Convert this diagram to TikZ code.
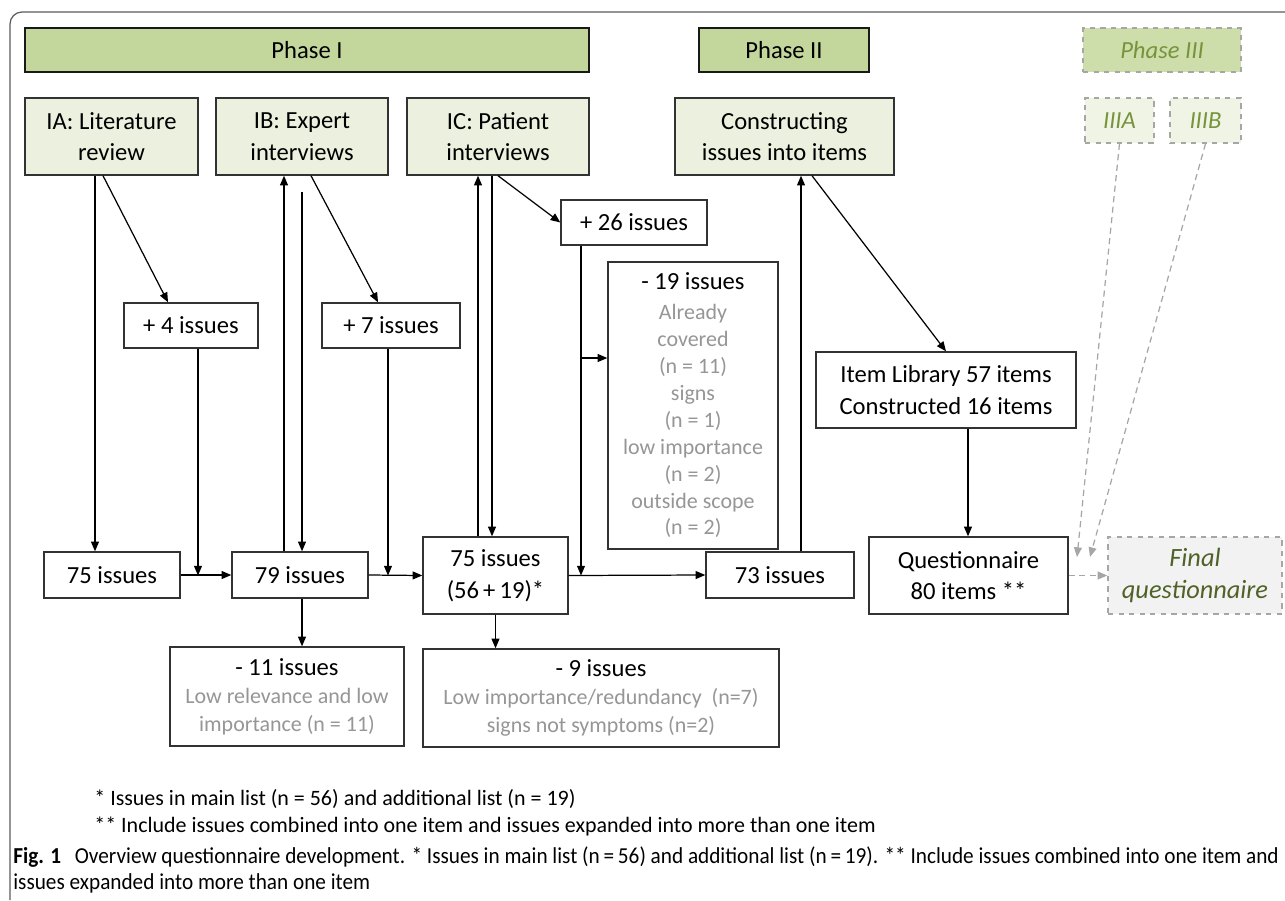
\documentclass[tikz,border=0pt]{standalone}
\usepackage{fontspec}
\setmainfont{Carlito}
\newfontfamily\capfont{Carlito}[FakeStretch=0.93]
\usepackage{xcolor}
\usepackage{tikz}
\usetikzlibrary{arrows.meta, positioning, calc}
\definecolor{phasegreen}{RGB}{195, 214, 155}
\definecolor{stepgreen}{RGB}{235, 241, 222}
\definecolor{laterfill}{RGB}{205, 222, 170}
\definecolor{laterstep}{RGB}{239, 244, 228}
\definecolor{latertext}{RGB}{119, 147, 60}
\definecolor{finaltext}{RGB}{79, 98, 40}
\definecolor{finalfill}{RGB}{242, 242, 242}
\definecolor{dashgray}{RGB}{166, 166, 166}
\definecolor{notegray}{RGB}{150, 150, 150}
\definecolor{framegray}{RGB}{90, 90, 90}
\definecolor{boxborder}{RGB}{50, 50, 50}

\tikzset{
  mainsize/.style={font=\fontsize{14}{18}\selectfont},
  phasebox/.style={draw=black!90, line width=0.85pt, fill=phasegreen, inner sep=0pt, mainsize},
  stepbox/.style={draw=boxborder, line width=0.8pt, fill=stepgreen, inner sep=0pt, align=center, mainsize},
  countbox/.style={draw=boxborder, line width=0.8pt, fill=white, inner sep=0pt, align=center, mainsize},
  notebox/.style={draw=boxborder, line width=0.8pt, fill=white, inner sep=0pt, align=center, text=notegray},
  latebox/.style={draw=dashgray, dashed, line width=0.8pt, inner sep=0pt, align=center, text=latertext,
    font=\fontsize{14}{18}\selectfont\itshape},
  arr/.style={-{Triangle[length=5.5pt,width=4.5pt]}, line width=0.7pt},
  darr/.style={-{Triangle[length=5.5pt,width=4.5pt]}, dashgray, dash pattern=on 3.5pt off 2.5pt, line width=0.7pt},
}
\newcommand{\notehead}[1]{{\color{black}\fontsize{14}{16}\selectfont #1}}

\begin{document}
\begin{tikzpicture}[x=0.02cm, y=-0.02cm]
    \useasboundingbox (0,0) rectangle (1285,900);

    % Frame
    \draw[framegray, line width=0.7pt, rounded corners=0.24cm] (10,900) -- (10,12) -- (1285,12);

    % Phases
    \node[phasebox, minimum width=11.28cm, minimum height=0.88cm] (ph1) at (307,50) {Phase I};
    \node[phasebox, minimum width=3.40cm, minimum height=0.88cm] (ph2) at (784,50) {Phase II};
    \node[latebox, fill=laterfill, minimum width=3.16cm, minimum height=0.88cm] (ph3) at (1162,50) {Phase III};

    % Steps
    \node[stepbox, minimum width=3.46cm, minimum height=1.54cm] (IA) at (111.5,136.5) {IA: Literature\\review};
    \node[stepbox, minimum width=3.44cm, minimum height=1.54cm] (IB) at (302,136.5) {IB: Expert\\interviews};
    \node[stepbox, minimum width=3.64cm, minimum height=1.54cm] (IC) at (498,136.5) {IC: Patient\\interviews};
    \node[stepbox, minimum width=4.38cm, minimum height=1.54cm] (constr) at (784.5,136.5) {Constructing\\issues into items};
    \node[latebox, fill=laterstep, minimum width=1.38cm, minimum height=0.90cm] (IIIA) at (1119.5,120.5) {IIIA};
    \node[latebox, fill=laterstep, minimum width=1.42cm, minimum height=0.90cm] (IIIB) at (1205.5,120.5) {IIIB};

    % Added issues
    \node[countbox, minimum width=2.68cm, minimum height=0.90cm] (p4) at (191,325.5) {+ 4 issues};
    \node[countbox, minimum width=2.76cm, minimum height=0.90cm] (p7) at (391,325.5) {+ 7 issues};
    \node[countbox, minimum width=2.92cm, minimum height=0.90cm] (p26) at (634,222.5) {+ 26 issues};

    % Issue lists
    \node[countbox, minimum width=2.72cm, minimum height=0.92cm] (i75a) at (112,575) {75 issues};
    \node[countbox, minimum width=2.72cm, minimum height=0.92cm] (i79) at (300,575) {79 issues};
    \node[countbox, minimum width=2.90cm, minimum height=1.54cm] (i75b) at (495.5,575.5) {75 issues\\(56\,+\,19)*};
    \node[countbox, minimum width=2.96cm, minimum height=0.92cm] (i73) at (780,575) {73 issues};
    \node[countbox, minimum width=5.20cm, minimum height=1.52cm] (lib) at (946,390) {Item Library 57 items\\Constructed 16 items};
    \node[countbox, minimum width=3.98cm, minimum height=1.54cm] (quest) at (968.5,575.5) {Questionnaire\\80 items **};
    \node[latebox, fill=finalfill, text=finaltext, font=\fontsize{15}{18}\selectfont\itshape,
      minimum width=3.48cm, minimum height=1.54cm] (final) at (1195,575.5) {Final\\questionnaire};

    % Removed issues
    \node[notebox, font=\fontsize{12.5}{15.3}\selectfont, minimum width=3.40cm, minimum height=5.74cm] (m19) at (693,405.5)
      {\notehead{- 19 issues}\\[1.7pt] Already\\covered\\(n = 11)\\signs\\(n = 1)\\low importance\\(n = 2)\\outside scope\\(n = 2)};
    \node[notebox, font=\fontsize{12.5}{16}\selectfont, minimum width=4.68cm, minimum height=1.98cm] (m11) at (287,696.5)
      {\notehead{- 11 issues}\\Low relevance and low\\importance (n = 11)};
    \node[notebox, font=\fontsize{12.5}{16}\selectfont, minimum width=7.12cm, minimum height=1.96cm] (m9) at (601,698)
      {\notehead{- 9 issues}\\Low importance/redundancy~~(n=7)\\signs not symptoms (n=2)};

    % Helper points
    \coordinate (xa) at (95,0);
    \coordinate (xb1) at (284,0);
    \coordinate (xb2) at (302,192);
    \coordinate (xc1) at (478,0);
    \coordinate (xc2) at (492,0);
    \coordinate (j1) at (198,575.5);
    \coordinate (j2) at (388,575.5);
    \coordinate (j3) at (581,575.5);
    \coordinate (j4) at (581,358);
    \coordinate (xd) at (801,0);
    \coordinate (xq) at (968,0);
    \coordinate (f1) at (1077,557);
    \coordinate (f2) at (1090,557);

    % Phase I flow
    \draw[arr] (IA.south -| xa) -- (i75a.north -| xa);
    \draw[arr] ([xshift=-0.17cm]IA.south) -- ([xshift=-0.46cm]p4.north);
    \draw[arr] (p4.south -| j1) -- (j1);
    \draw[arr] (i75a.east) -- (i79.west);
    \draw[arr] (i79.north -| xb1) -- (IB.south -| xb1);
    \draw[arr] (xb2) -- (i79.north -| xb2);
    \draw[arr] ([xshift=0.18cm]IB.south) -- ([xshift=-0.26cm]p7.north);
    \draw[arr] (p7.south -| j2) -- (j2);
    \draw[arr] (i79.east) -- (i75b.west);
    \draw[arr] (i79.south -| xb2) -- (m11.north -| xb2);
    \draw[arr] (i75b.north -| xc1) -- (IC.south -| xc1);
    \draw[arr] (IC.south -| xc2) -- (i75b.north -| xc2);
    \draw[arr] (IC.south) -- (p26.west);
    \draw[arr] (p26.south -| j3) -- (j3);
    \draw[arr] (j4) -- (m19.west |- j4);
    \draw[arr] (i75b.south) -- (m9.north -| i75b.south);
    \draw[arr] (i75b.east) -- (i73.west);

    % Phase II flow
    \draw[arr] (i73.north -| xd) -- (constr.south -| xd);
    \draw[arr] ([xshift=0.55cm]constr.south) -- (lib.north);
    \draw[arr] (lib.south -| xq) -- (quest.north -| xq);

    % Phase III
    \draw[darr] (IIIA.south) -- (f1);
    \draw[darr] (IIIB.south) -- (f2);
    \draw[darr] (quest.east) -- (final.west);

    % Notes
    \node[anchor=base west, inner sep=0pt, font=\fontsize{12.5}{15}\selectfont] (fn1) at (94,805) {* Issues in main list (n = 56) and additional list (n = 19)};
    \node[anchor=base west, inner sep=0pt, font=\fontsize{12.5}{15}\selectfont] (fn2) at (94,832) {** Include issues combined into one item and issues expanded into more than one item};

    % Caption
    \node[anchor=base west, inner sep=0pt, font=\capfont\fontsize{13}{15}\selectfont] (cap1) at (13,863)
      {\textbf{Fig. 1}\hspace{0.6em}Overview questionnaire development. * Issues in main list (n\,=\,56) and additional list (n\,=\,19). ** Include issues combined into one item and};
    \node[anchor=base west, inner sep=0pt, font=\capfont\fontsize{13}{15}\selectfont] (cap2) at (13,889)
      {issues expanded into more than one item};
\end{tikzpicture}
\end{document}
